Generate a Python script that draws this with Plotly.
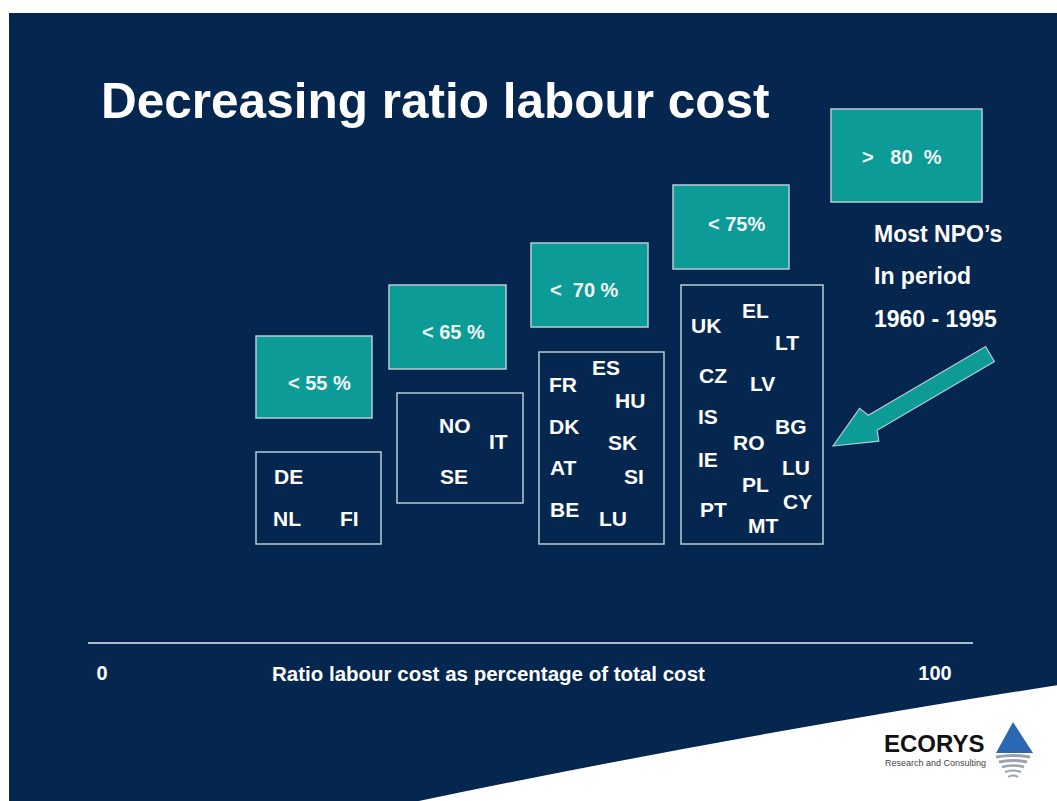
import math
import plotly.graph_objects as go

# ---- content -------------------------------------------------------------
title_text = "Decreasing ratio labour cost"
band_labels = ["< 55 %", "< 65 %", "<\u00a0 70 %", "< 75%", ">\u00a0\u00a0 80\u00a0 %"]
group_55 = ["DE", "NL", "FI"]
group_65 = ["NO", "IT", "SE"]
group_70 = ["ES", "FR", "HU", "DK", "SK", "AT", "SI", "BE", "LU"]
group_75 = ["EL", "UK", "LT", "CZ", "LV", "IS", "BG", "RO", "IE", "LU", "PL", "CY", "PT", "MT"]
note_lines = ["Most NPO\u2019s", "In period", "1960 - 1995"]
scale_ticks = [0, 100]
scale_title = "Ratio labour cost as percentage of total cost"

# ---- styling / layout constants -----------------------------------------
W, H = 1057, 801
NAVY = "#04264f"
TEAL = "#0c9b97"
EDGE = "#b7cbd6"
FONT = "Liberation Sans, Arial, sans-serif"

# band boxes (teal) and country boxes (outlined) in page pixels: x0, y0, x1, y1
band_boxes = [(256, 336, 372, 418), (389, 285, 506, 369), (531, 243, 648, 327),
              (673, 185, 789, 269), (831, 109, 982, 202)]
band_text_pos = [(319, 383), (453, 332), (584, 290), (736, 224), (902, 157)]
country_boxes = [(256, 452, 381, 544), (397, 393, 523, 503),
                 (539, 352, 664, 544), (681, 285, 823, 544)]
country_pos = [
    [(288, 476), (287, 518), (349, 518)],
    [(455, 425), (498, 441), (454, 476)],
    [(606, 367), (563, 384), (630, 400), (564, 426), (622, 442),
     (563, 467), (634, 476), (564, 509), (613, 518)],
    [(755, 310), (706, 325), (787, 342), (713, 375), (762, 383), (708, 416),
     (791, 426), (749, 442), (708, 459), (796, 467), (755, 484), (797, 501),
     (713, 509), (763, 525)],
]
groups = [group_55, group_65, group_70, group_75]

fig = go.Figure()

# invisible anchor traces so both the page axes and the 0-100 scale axis are built
fig.add_trace(go.Scatter(x=[0, W], y=[0, H], xaxis="x", yaxis="y",
                         mode="markers", marker=dict(opacity=0),
                         hoverinfo="skip", showlegend=False))
fig.add_trace(go.Scatter(x=scale_ticks, y=[-500, -500], xaxis="x2", yaxis="y",
                         mode="markers", marker=dict(opacity=0),
                         hoverinfo="skip", showlegend=False))

shapes = []
# slide background with white frame
shapes.append(dict(type="rect", x0=9, y0=13, x1=W, y1=H, fillcolor=NAVY,
                   line=dict(width=0), layer="below"))
# white sweep in the lower right corner
shapes.append(dict(type="path", path="M 414,802 Q 720,738 1058,685 L 1058,802 Z",
                   fillcolor="white", line=dict(width=0), layer="below"))
# scale line
shapes.append(dict(type="line", x0=88, x1=973, y0=643, y1=643,
                   line=dict(color="#a9bccb", width=2)))

for (x0, y0, x1, y1) in band_boxes:
    shapes.append(dict(type="rect", x0=x0, y0=y0, x1=x1, y1=y1, fillcolor=TEAL,
                       line=dict(color=EDGE, width=1.5)))
for (x0, y0, x1, y1) in country_boxes:
    shapes.append(dict(type="rect", x0=x0, y0=y0, x1=x1, y1=y1,
                       fillcolor="rgba(0,0,0,0)", line=dict(color=EDGE, width=1.5)))

# arrow pointing from the note towards the country groups
tip = (833, 446)
tail = (990, 354)
dx, dy = tail[0] - tip[0], tail[1] - tip[1]
L = math.hypot(dx, dy)
ux, uy = dx / L, dy / L
nx, ny = -uy, ux
head_len, head_half, shaft_half = 46, 19, 8.7
hx, hy = tip[0] + ux * head_len, tip[1] + uy * head_len
pts = [tip,
       (hx + nx * head_half - ux * 4, hy + ny * head_half - uy * 4),
       (hx + nx * shaft_half, hy + ny * shaft_half),
       (tail[0] + nx * shaft_half, tail[1] + ny * shaft_half),
       (tail[0] - nx * shaft_half, tail[1] - ny * shaft_half),
       (hx - nx * shaft_half, hy - ny * shaft_half),
       (hx - nx * head_half - ux * 4, hy - ny * head_half - uy * 4)]
path = "M " + " L ".join(f"{px:.1f},{py:.1f}" for px, py in pts) + " Z"
shapes.append(dict(type="path", path=path, fillcolor=TEAL,
                   line=dict(color=EDGE, width=1.2)))

# logo: blue triangle with grey ripples beneath
shapes.append(dict(type="path", path="M 1013,722 L 1033,753 L 996,753 Z",
                   fillcolor="#2a68b1", line=dict(width=0)))
ripples = [(17, 757, 3), (14, 762, 3), (11, 767, 2.5), (8, 772, 2), (5, 777, 2)]
for half, yy, lw in ripples:
    shapes.append(dict(type="path",
                       path=f"M {1013 - half},{yy} Q 1013,{yy - 3} {1013 + half},{yy}",
                       line=dict(color="#9aa3ad", width=lw)))

annotations = []
annotations.append(dict(x=99, y=100, text=title_text, xanchor="left", yanchor="middle",
                        showarrow=False,
                        font=dict(family=FONT, size=49.5, color="white", weight="bold")))
for lbl, (tx, ty) in zip(band_labels, band_text_pos):
    annotations.append(dict(x=tx, y=ty, text=lbl, showarrow=False,
                            xanchor="center", yanchor="middle",
                            font=dict(family=FONT, size=20, color="#f2f6f6", weight="bold")))
for names, poss in zip(groups, country_pos):
    for name, (tx, ty) in zip(names, poss):
        annotations.append(dict(x=tx, y=ty, text=name, showarrow=False,
                                xanchor="center", yanchor="middle",
                                font=dict(family=FONT, size=21, color="white", weight="bold")))
for line, ty in zip(note_lines, [234, 276, 319]):
    annotations.append(dict(x=872, y=ty, text=line, showarrow=False,
                            xanchor="left", yanchor="middle",
                            font=dict(family=FONT, size=23, color="white", weight="bold")))
annotations.append(dict(x=488, y=673, text=scale_title, showarrow=False,
                        xanchor="center", yanchor="middle",
                        font=dict(family=FONT, size=20.5, color="white", weight="bold")))
annotations.append(dict(x=882, y=743, text="ECORYS", showarrow=False,
                        xanchor="left", yanchor="middle",
                        font=dict(family=FONT, size=24, color="#111111", weight="bold")))
annotations.append(dict(x=883, y=763, text="Research and Consulting", showarrow=False,
                        xanchor="left", yanchor="middle",
                        font=dict(family=FONT, size=9, color="#444444")))

# 0-100 scale as a real axis across the full width: 0 sits at x=102 px, 100 at x=935 px
span = (935 - 102) / 100.0
r0 = -102 / span
r1 = r0 + W / span

fig.update_layout(
    width=W, height=H, margin=dict(l=0, r=0, t=0, b=0),
    paper_bgcolor="white", plot_bgcolor="rgba(0,0,0,0)",
    showlegend=False,
    xaxis=dict(range=[0, W], domain=[0, 1], visible=False, fixedrange=True),
    yaxis=dict(range=[H, 0], domain=[0, 1], visible=False, fixedrange=True),
    xaxis2=dict(overlaying="x", anchor="free", position=1 - 643 / H,
                domain=[0, 1], range=[r0, r1],
                tickvals=scale_ticks, ticktext=[str(t) for t in scale_ticks],
                showline=False, showgrid=False, zeroline=False,
                ticks="outside", ticklen=12, tickcolor="rgba(0,0,0,0)",
                tickfont=dict(family=FONT, size=20, color="white", weight="bold"),
                fixedrange=True),
    shapes=shapes,
    annotations=annotations,
)

fig.write_html("out.html")
